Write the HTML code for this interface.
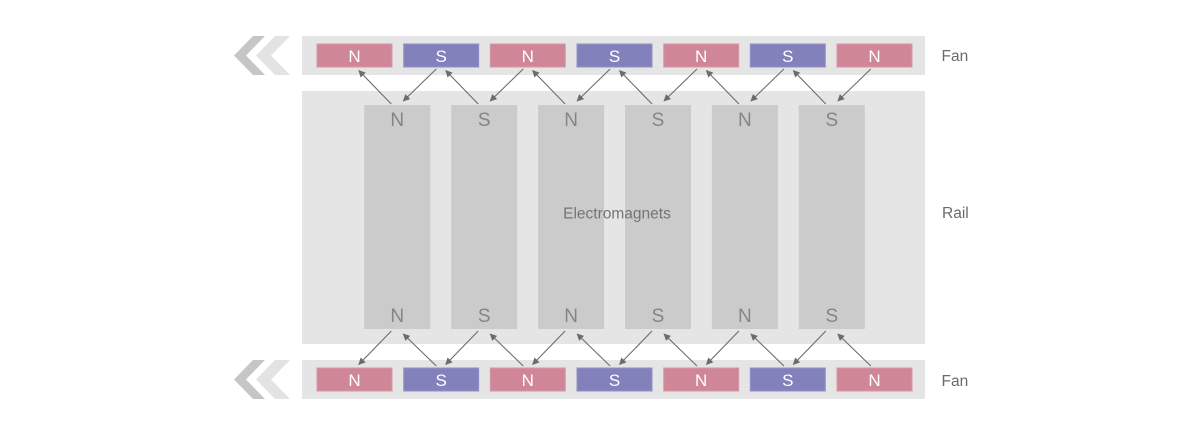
<!DOCTYPE html>
<html>
<head>
<meta charset="utf-8">
<style>
html,body{margin:0;padding:0;background:#fff;}
svg{display:block;}
text{font-family:"Liberation Sans",Arial,sans-serif;}
</style>
</head>
<body>
<svg width="1200" height="435" viewBox="0 0 1200 435" xmlns="http://www.w3.org/2000/svg">
<defs>
<marker id="ah" viewBox="0 0 10 10" refX="9" refY="5" markerWidth="9" markerHeight="7" markerUnits="userSpaceOnUse" orient="auto">
<path d="M0,0 L10,5 L0,10 z" fill="#6c6c6c"/>
</marker>
</defs>
<rect x="0" y="0" width="1200" height="435" fill="#fff"/>

<!-- top fan band -->
<rect x="302" y="36" width="623" height="39" fill="#e5e5e5"/>
<!-- rail -->
<rect x="302" y="91" width="623" height="253" fill="#e5e5e5"/>
<!-- bottom fan band -->
<rect x="302" y="360" width="623" height="39" fill="#e5e5e5"/>

<!-- chevrons top -->
<polygon points="234,55.5 253,36 265,36 246,55.5 265,75 253,75" fill="#c6c6c6"/>
<polygon points="256,55.5 275,36 290,36 271,55.5 290,75 275,75" fill="#e3e3e3"/>
<!-- chevrons bottom -->
<polygon points="234,379.5 253,360 265,360 246,379.5 265,399 253,399" fill="#c6c6c6"/>
<polygon points="256,379.5 275,360 290,360 271,379.5 290,399 275,399" fill="#e3e3e3"/>

<!-- electromagnets -->
<g fill="#cbcbcb">
<rect x="364.3" y="105" width="66" height="224"/>
<rect x="451.2" y="105" width="66" height="224"/>
<rect x="538.1" y="105" width="66" height="224"/>
<rect x="625" y="105" width="66" height="224"/>
<rect x="711.9" y="105" width="66" height="224"/>
<rect x="798.8" y="105" width="66" height="224"/>
</g>
<g fill="#858585" font-size="19" text-anchor="middle">
<text x="397.3" y="126">N</text><text x="484.2" y="126">S</text><text x="571.1" y="126">N</text>
<text x="658" y="126">S</text><text x="744.9" y="126">N</text><text x="831.8" y="126">S</text>
<text x="397.3" y="322">N</text><text x="484.2" y="322">S</text><text x="571.1" y="322">N</text>
<text x="658" y="322">S</text><text x="744.9" y="322">N</text><text x="831.8" y="322">S</text>
</g>
<text x="617" y="218.5" font-size="15.5" fill="#747474" text-anchor="middle">Electromagnets</text>

<!-- magnets top -->
<g>
<rect x="317" y="44" width="75" height="23" fill="#cf8798" stroke="#d898a7" stroke-width="1"/>
<rect x="403.7" y="44" width="75" height="23" fill="#8381bb" stroke="#9391c6" stroke-width="1"/>
<rect x="490.3" y="44" width="75" height="23" fill="#cf8798" stroke="#d898a7" stroke-width="1"/>
<rect x="577" y="44" width="75" height="23" fill="#8381bb" stroke="#9391c6" stroke-width="1"/>
<rect x="663.7" y="44" width="75" height="23" fill="#cf8798" stroke="#d898a7" stroke-width="1"/>
<rect x="750.3" y="44" width="75" height="23" fill="#8381bb" stroke="#9391c6" stroke-width="1"/>
<rect x="837" y="44" width="75" height="23" fill="#cf8798" stroke="#d898a7" stroke-width="1"/>
</g>
<!-- magnets bottom -->
<g>
<rect x="317" y="368" width="75" height="23" fill="#cf8798" stroke="#d898a7" stroke-width="1"/>
<rect x="403.7" y="368" width="75" height="23" fill="#8381bb" stroke="#9391c6" stroke-width="1"/>
<rect x="490.3" y="368" width="75" height="23" fill="#cf8798" stroke="#d898a7" stroke-width="1"/>
<rect x="577" y="368" width="75" height="23" fill="#8381bb" stroke="#9391c6" stroke-width="1"/>
<rect x="663.7" y="368" width="75" height="23" fill="#cf8798" stroke="#d898a7" stroke-width="1"/>
<rect x="750.3" y="368" width="75" height="23" fill="#8381bb" stroke="#9391c6" stroke-width="1"/>
<rect x="837" y="368" width="75" height="23" fill="#cf8798" stroke="#d898a7" stroke-width="1"/>
</g>
<g fill="#ffffff" font-size="17" text-anchor="middle">
<text x="354.5" y="62">N</text><text x="441.2" y="62">S</text><text x="527.8" y="62">N</text>
<text x="614.5" y="62">S</text><text x="701.2" y="62">N</text><text x="787.8" y="62">S</text><text x="874.5" y="62">N</text>
<text x="354.5" y="386">N</text><text x="441.2" y="386">S</text><text x="527.8" y="386">N</text>
<text x="614.5" y="386">S</text><text x="701.2" y="386">N</text><text x="787.8" y="386">S</text><text x="874.5" y="386">N</text>
</g>

<!-- arrows -->
<g stroke="#6c6c6c" stroke-width="1.1" fill="none" marker-end="url(#ah)">
<!-- top: up arrows (em -> fan) -->
<line x1="391.3" y1="104" x2="358.8" y2="70.5"/>
<line x1="478.2" y1="104" x2="445.7" y2="70.5"/>
<line x1="565.1" y1="104" x2="532.6" y2="70.5"/>
<line x1="652" y1="104" x2="619.5" y2="70.5"/>
<line x1="738.9" y1="104" x2="706.4" y2="70.5"/>
<line x1="825.8" y1="104" x2="793.3" y2="70.5"/>
<!-- top: down arrows (fan -> em) -->
<line x1="436.3" y1="69" x2="403.3" y2="101"/>
<line x1="523.2" y1="69" x2="490.2" y2="101"/>
<line x1="610.1" y1="69" x2="577.1" y2="101"/>
<line x1="697" y1="69" x2="664" y2="101"/>
<line x1="783.9" y1="69" x2="750.9" y2="101"/>
<line x1="870.8" y1="69" x2="837.8" y2="101"/>
<!-- bottom: down arrows (em -> fan) -->
<line x1="391.3" y1="331" x2="358.8" y2="364.5"/>
<line x1="478.2" y1="331" x2="445.7" y2="364.5"/>
<line x1="565.1" y1="331" x2="532.6" y2="364.5"/>
<line x1="652" y1="331" x2="619.5" y2="364.5"/>
<line x1="738.9" y1="331" x2="706.4" y2="364.5"/>
<line x1="825.8" y1="331" x2="793.3" y2="364.5"/>
<!-- bottom: up arrows (fan -> em) -->
<line x1="436.3" y1="366" x2="403.3" y2="334"/>
<line x1="523.2" y1="366" x2="490.2" y2="334"/>
<line x1="610.1" y1="366" x2="577.1" y2="334"/>
<line x1="697" y1="366" x2="664" y2="334"/>
<line x1="783.9" y1="366" x2="750.9" y2="334"/>
<line x1="870.8" y1="366" x2="837.8" y2="334"/>
</g>

<!-- side labels -->
<g fill="#6a6a6a" font-size="15.5">
<text x="941.5" y="61">Fan</text>
<text x="942" y="218">Rail</text>
<text x="941.5" y="386">Fan</text>
</g>
</svg>
</body>
</html>
